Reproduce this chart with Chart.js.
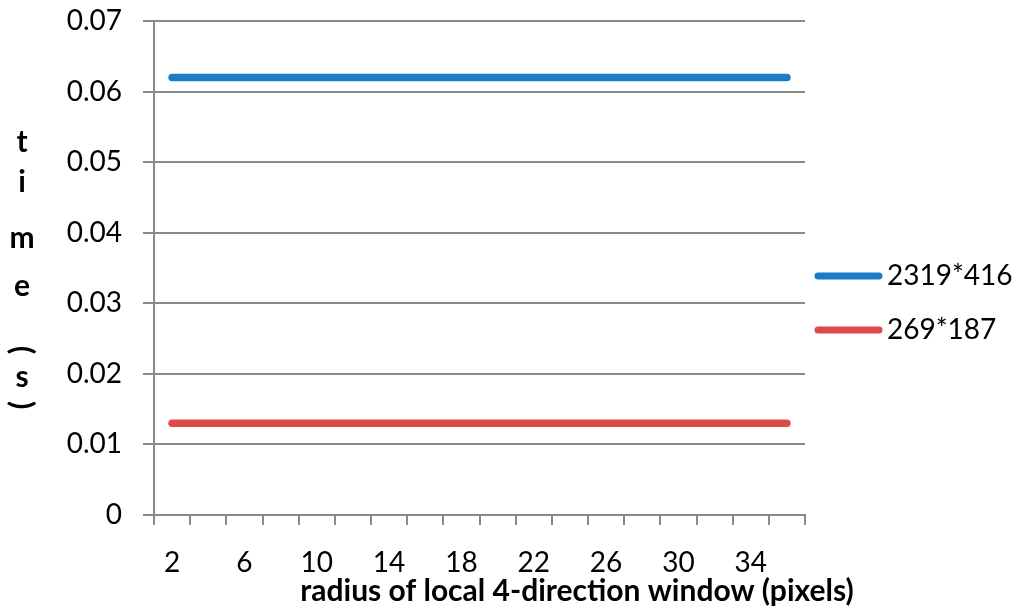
<!DOCTYPE html>
<html>
<head>
<meta charset="utf-8">
<script src="https://cdn.jsdelivr.net/npm/chart.js@4"></script>
<style>
  html, body { margin: 0; padding: 0; background: #fff; }
  #wrap { width: 1024px; height: 613px; }
</style>
</head>
<body>
<div id="wrap"><canvas id="line-chart"></canvas></div>
<script>
var radius = [2, 4, 6, 8, 10, 12, 14, 16, 18, 20, 22, 24, 26, 28, 30, 32, 34, 36];
var big = [0.062, 0.062, 0.062, 0.062, 0.062, 0.062, 0.062, 0.062, 0.062,
           0.062, 0.062, 0.062, 0.062, 0.062, 0.062, 0.062, 0.062, 0.062];
var small = [0.013, 0.013, 0.013, 0.013, 0.013, 0.013, 0.013, 0.013, 0.013,
             0.013, 0.013, 0.013, 0.013, 0.013, 0.013, 0.013, 0.013, 0.013];
var seriesNames = ['2319*416', '269*187'];
var yTitle = ['t', 'i', 'm', 'e', '(', 's', ')'];
var xTitle = 'radius of local 4-direction window (pixels)';

var grey = '#8a8a8a';
var font = 'Lato';

// titles + legend drawn by hand so they sit where excel put them
var extras = {
    id: 'extras',
    afterDraw: function(chart) {
        var ctx = chart.ctx;
        ctx.save();
        ctx.fillStyle = '#000';
        ctx.textAlign = 'center';
        ctx.textBaseline = 'middle';

        // vertical stacked y title
        ctx.font = 'bold 30px ' + font;
        var ys = [142, 182, 238, 286, 350, 377, 405];
        yTitle.forEach(function(ch, i) {
            if (ch === '(' || ch === ')') {
                ctx.save();
                ctx.translate(22, ys[i]);
                ctx.rotate(Math.PI / 2);
                ctx.fillText(ch, 0, 0);
                ctx.restore();
            } else {
                ctx.fillText(ch, 22, ys[i]);
            }
        });

        // x title
        ctx.font = 'bold 30px ' + font;
        ctx.fillText(xTitle, 577, 591);

        // legend
        ctx.font = '28px ' + font;
        ctx.textAlign = 'left';
        var ly = [276, 330];
        chart.data.datasets.forEach(function(ds, i) {
            ctx.strokeStyle = ds.borderColor;
            ctx.lineWidth = 7;
            ctx.lineCap = 'round';
            ctx.beginPath();
            ctx.moveTo(818, ly[i]);
            ctx.lineTo(879, ly[i]);
            ctx.stroke();
            ctx.fillText(ds.label, 887, ly[i]);
        });
        ctx.restore();
    }
};

function buildLineChart() {
    var ctx = document.getElementById('line-chart');
    var lineChart = new Chart(ctx, {
        type: 'line',
        data: {
            labels: radius,
            datasets: [{
                label: seriesNames[0],
                borderColor: '#1b7dc3',
                backgroundColor: '#1b7dc3',
                data: big
            }, {
                label: seriesNames[1],
                borderColor: '#df4a48',
                backgroundColor: '#df4a48',
                data: small
            }]
        },
        options: {
            responsive: true,
            maintainAspectRatio: false,
            animation: false,
            layout: { padding: { top: 21, left: 0, right: 219, bottom: 0 } },
            elements: {
                line: { borderWidth: 7.5, borderCapStyle: 'round', tension: 0 },
                point: { radius: 0, hoverRadius: 0 }
            },
            plugins: {
                legend: { display: false },
                tooltip: { enabled: false }
            },
            scales: {
                x: {
                    offset: true,
                    grid: {
                        offset: true,
                        drawOnChartArea: false,
                        color: grey,
                        lineWidth: 2,
                        tickLength: 10
                    },
                    border: { color: grey, width: 2 },
                    ticks: {
                        autoSkip: false,
                        maxRotation: 0,
                        color: '#000',
                        font: { family: font, size: 28 },
                        padding: 21,
                        callback: function(v, i) {
                            return i % 2 === 0 ? radius[i] : '';
                        }
                    },
                    afterFit: function(s) {
                        s.height = 98;
                        s.paddingLeft = 0;
                        s.paddingRight = 0;
                    }
                },
                y: {
                    min: 0,
                    max: 0.07,
                    grid: {
                        color: grey,
                        lineWidth: 2,
                        tickLength: 11
                    },
                    border: { color: grey, width: 2 },
                    ticks: {
                        stepSize: 0.01,
                        color: '#000',
                        font: { family: font, size: 28 },
                        padding: 21,
                        callback: function(v) {
                            return v === 0 ? '0' : v.toFixed(2);
                        }
                    },
                    afterFit: function(s) {
                        s.width = 154;
                        s.paddingTop = 0;
                        s.paddingBottom = 0;
                    }
                }
            }
        },
        plugins: [extras]
    });
}

buildLineChart();
</script>
</body>
</html>
